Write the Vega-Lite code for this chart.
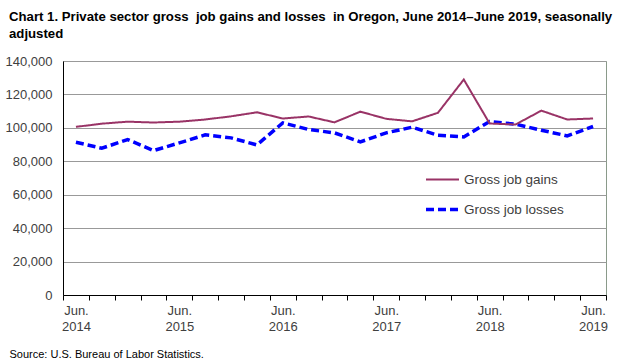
{
  "$schema": "https://vega.github.io/schema/vega-lite/v6.json",
  "width": 543,
  "height": 234,
  "autosize": {"type": "none"},
  "padding": {"left": 63, "top": 61, "right": 16, "bottom": 69},
  "background": "white",
  "title": {
    "text": ["Chart 1. Private sector gross\u00a0 job gains and losses\u00a0 in Oregon, June 2014–June 2019, seasonally", "adjusted"],
    "anchor": "start",
    "frame": "group",
    "dx": -54,
    "offset": 14,
    "font": "Liberation Sans",
    "fontSize": 13.2,
    "fontWeight": "bold",
    "color": "#000000",
    "lineHeight": 17
  },
  "data": {
    "values": [
      {"i": 0, "period": "Jun 2014", "series": "Gross job losses", "value": 91400},
      {"i": 1, "period": "Sep 2014", "series": "Gross job losses", "value": 87800},
      {"i": 2, "period": "Dec 2014", "series": "Gross job losses", "value": 93000},
      {"i": 3, "period": "Mar 2015", "series": "Gross job losses", "value": 86400},
      {"i": 4, "period": "Jun 2015", "series": "Gross job losses", "value": 91000},
      {"i": 5, "period": "Sep 2015", "series": "Gross job losses", "value": 95800},
      {"i": 6, "period": "Dec 2015", "series": "Gross job losses", "value": 94000},
      {"i": 7, "period": "Mar 2016", "series": "Gross job losses", "value": 89800},
      {"i": 8, "period": "Jun 2016", "series": "Gross job losses", "value": 103000},
      {"i": 9, "period": "Sep 2016", "series": "Gross job losses", "value": 99000},
      {"i": 10, "period": "Dec 2016", "series": "Gross job losses", "value": 97000},
      {"i": 11, "period": "Mar 2017", "series": "Gross job losses", "value": 91600},
      {"i": 12, "period": "Jun 2017", "series": "Gross job losses", "value": 97000},
      {"i": 13, "period": "Sep 2017", "series": "Gross job losses", "value": 100400},
      {"i": 14, "period": "Dec 2017", "series": "Gross job losses", "value": 95600},
      {"i": 15, "period": "Mar 2018", "series": "Gross job losses", "value": 94600},
      {"i": 16, "period": "Jun 2018", "series": "Gross job losses", "value": 103800},
      {"i": 17, "period": "Sep 2018", "series": "Gross job losses", "value": 102200},
      {"i": 18, "period": "Dec 2018", "series": "Gross job losses", "value": 98600},
      {"i": 19, "period": "Mar 2019", "series": "Gross job losses", "value": 95200},
      {"i": 20, "period": "Jun 2019", "series": "Gross job losses", "value": 100800},
      {"i": 0, "period": "Jun 2014", "series": "Gross job gains", "value": 100600},
      {"i": 1, "period": "Sep 2014", "series": "Gross job gains", "value": 102500},
      {"i": 2, "period": "Dec 2014", "series": "Gross job gains", "value": 103700},
      {"i": 3, "period": "Mar 2015", "series": "Gross job gains", "value": 103200},
      {"i": 4, "period": "Jun 2015", "series": "Gross job gains", "value": 103700},
      {"i": 5, "period": "Sep 2015", "series": "Gross job gains", "value": 105000},
      {"i": 6, "period": "Dec 2015", "series": "Gross job gains", "value": 106900},
      {"i": 7, "period": "Mar 2016", "series": "Gross job gains", "value": 109300},
      {"i": 8, "period": "Jun 2016", "series": "Gross job gains", "value": 105600},
      {"i": 9, "period": "Sep 2016", "series": "Gross job gains", "value": 106800},
      {"i": 10, "period": "Dec 2016", "series": "Gross job gains", "value": 103300},
      {"i": 11, "period": "Mar 2017", "series": "Gross job gains", "value": 109700},
      {"i": 12, "period": "Jun 2017", "series": "Gross job gains", "value": 105400},
      {"i": 13, "period": "Sep 2017", "series": "Gross job gains", "value": 103900},
      {"i": 14, "period": "Dec 2017", "series": "Gross job gains", "value": 109000},
      {"i": 15, "period": "Mar 2018", "series": "Gross job gains", "value": 128900},
      {"i": 16, "period": "Jun 2018", "series": "Gross job gains", "value": 102600},
      {"i": 17, "period": "Sep 2018", "series": "Gross job gains", "value": 102000},
      {"i": 18, "period": "Dec 2018", "series": "Gross job gains", "value": 110300},
      {"i": 19, "period": "Mar 2019", "series": "Gross job gains", "value": 105000},
      {"i": 20, "period": "Jun 2019", "series": "Gross job gains", "value": 105600}
    ]
  },
  "mark": {"type": "line", "strokeCap": "butt", "strokeJoin": "miter"},
  "encoding": {
    "x": {
      "field": "i",
      "type": "quantitative",
      "scale": {"domain": [-0.5, 20.5], "nice": false, "zero": false},
      "axis": {
        "values": [-0.5, 0.5, 1.5, 2.5, 3.5, 4.5, 5.5, 6.5, 7.5, 8.5, 9.5, 10.5, 11.5, 12.5, 13.5, 14.5, 15.5, 16.5, 17.5, 18.5, 19.5, 20.5],
        "labelExpr": "(datum.value + 0.5) % 4 == 0 && datum.value < 20 ? ['Jun.', '' + (2014 + (datum.value + 0.5) / 4)] : ''",
        "labelOffset": 12.93,
        "labelOverlap": false,
        "labelBound": false,
        "labelFlush": false,
        "labelAlign": "center",
        "labelBaseline": "top",
        "labelPadding": 4,
        "labelLineHeight": 16,
        "labelFont": "Liberation Sans",
        "labelFontSize": 13,
        "labelColor": "#404040",
        "grid": false,
        "ticks": true,
        "tickSize": 5,
        "tickColor": "#000000",
        "tickWidth": 1,
        "domainColor": "#000000",
        "domainWidth": 1,
        "title": "Source: U.S. Bureau of Labor Statistics.",
        "titleX": -54,
        "titleY": 62,
        "titleAlign": "left",
        "titleAnchor": null,
        "titleBaseline": "alphabetic",
        "titleFont": "Liberation Sans",
        "titleFontSize": 11,
        "titleFontWeight": "normal",
        "titleColor": "#000000"
      }
    },
    "y": {
      "field": "value",
      "type": "quantitative",
      "scale": {"domain": [0, 140000], "nice": false},
      "axis": {
        "values": [0, 20000, 40000, 60000, 80000, 100000, 120000, 140000],
        "format": ",.0f",
        "title": null,
        "ticks": false,
        "labelPadding": 11,
        "labelFont": "Liberation Sans",
        "labelFontSize": 13,
        "labelColor": "#404040",
        "grid": true,
        "gridColor": "#999999",
        "gridWidth": 1,
        "domainColor": "#000000",
        "domainWidth": 1
      }
    },
    "color": {
      "field": "series",
      "type": "nominal",
      "scale": {"domain": ["Gross job gains", "Gross job losses"], "range": ["#993366", "#0000ff"]},
      "legend": {"title": null}
    },
    "strokeDash": {
      "field": "series",
      "type": "nominal",
      "scale": {"domain": ["Gross job gains", "Gross job losses"], "range": [[1, 0], [8, 4]]},
      "legend": {"title": null}
    },
    "strokeWidth": {
      "field": "series",
      "type": "nominal",
      "scale": {"domain": ["Gross job gains", "Gross job losses"], "range": [2, 3.5]},
      "legend": {"title": null}
    }
  },
  "config": {
    "view": {"stroke": "#8a9a8a", "strokeWidth": 1},
    "legend": {
      "orient": "none",
      "legendX": 361,
      "legendY": 101,
      "padding": 0,
      "symbolType": "stroke",
      "symbolSize": 1089,
      "symbolOffset": 0,
      "labelOffset": 3,
      "rowPadding": 5,
      "labelFont": "Liberation Sans",
      "labelFontSize": 13.5,
      "labelColor": "#404040"
    }
  }
}
